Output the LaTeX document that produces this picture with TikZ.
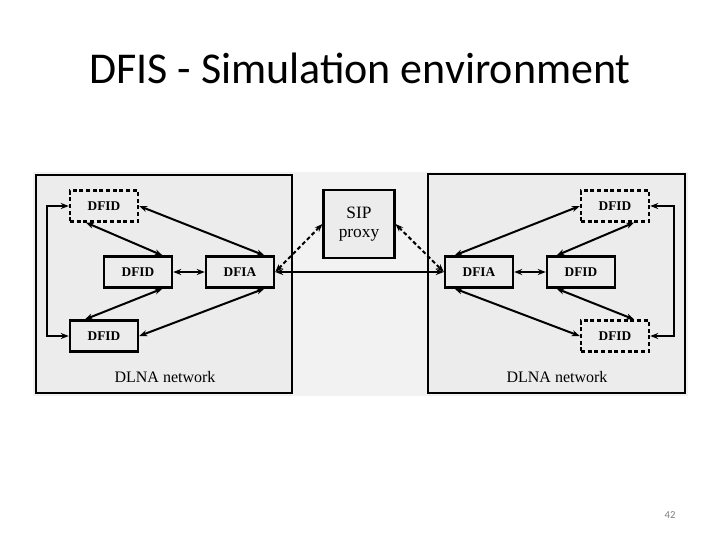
\documentclass[tikz,border=0pt]{standalone}
\usepackage{fontspec}
\setmainfont{Liberation Serif}
\newfontfamily\calfont{Carlito}
\usetikzlibrary{arrows.meta}
\begin{document}
\begin{tikzpicture}[x=0.75pt,y=-0.75pt,
  box/.style={draw=black,line width=1.8pt,fill=gray!15,minimum width=51pt,minimum height=23pt,inner sep=0pt,font=\bfseries\fontsize{10}{11}\selectfont},
  dbox/.style={box,dash pattern=on 3pt off 2pt},
  net/.style={draw=black,line width=1.4pt,fill=gray!15},
  con/.style={line width=1.5pt,{Stealth[length=6pt]}-{Stealth[length=6pt]}},
  dcon/.style={con,dash pattern=on 3pt off 2pt}]
\useasboundingbox (0,0) rectangle (720,540);
\fill[gray!10] (33,172) rectangle (688,396);
\node[font=\calfont\fontsize{33}{38}\selectfont] (title) at (360,68) {DFIS - Simulation environment};
\node[font=\calfont\fontsize{8}{9}\selectfont,text=gray] (pg) at (670,515) {42};
\draw[net] (36,175) rectangle (292,393);
\draw[net] (428,174) rectangle (685,393);
\node (l1) at (165,377) {\fontsize{12}{13}\selectfont DLNA network};
\node (l2) at (557,377) {\fontsize{12}{13}\selectfont DLNA network};
\node[box,minimum width=53pt,minimum height=51pt,font=\fontsize{13}{14}\selectfont,align=center] (sip) at (359,224) {SIP\\proxy};
\node[dbox] (lt) at (104,206) {DFID};
\node[box] (lm) at (138,272) {DFID};
\node[box] (la) at (240,272) {DFIA};
\node[box] (lb) at (104,336) {DFID};
\node[box] (ra) at (479,272) {DFIA};
\node[box] (rm) at (581,272) {DFID};
\node[dbox] (rt) at (615,206) {DFID};
\node[dbox] (rb) at (615,336) {DFID};
\draw[con] ([xshift=-40pt]lt.south east) -- ([xshift=-8pt]lm.north east);
\draw[con] (lt.east) -- ([xshift=-8pt]la.north east);
\draw[con] (lm) -- (la);
\draw[con] ([xshift=-8pt]lm.south east) -- ([xshift=12pt]lb.north west);
\draw[con] (lb.east) -- ([xshift=-8pt]la.south east);
\draw[con] (lt.west) -- ++(-22,0) |- (lb.west);
\draw[con] (la) -- (ra);
\draw[dcon] (sip.west) -- (la.east);
\draw[dcon] (sip.east) -- (ra.west);
\draw[con] (rt.west) -- ([xshift=8pt]ra.north west);
\draw[con] (rm) -- (ra);
\draw[con] ([xshift=-12pt]rt.south east) -- ([xshift=8pt]rm.north west);
\draw[con] ([xshift=8pt]rm.south west) -- ([xshift=-12pt]rb.north east);
\draw[con] (rb.west) -- ([xshift=8pt]ra.south west);
\draw[con] (rt.east) -- ++(24,0) |- (rb.east);
\end{tikzpicture}
\end{document}
